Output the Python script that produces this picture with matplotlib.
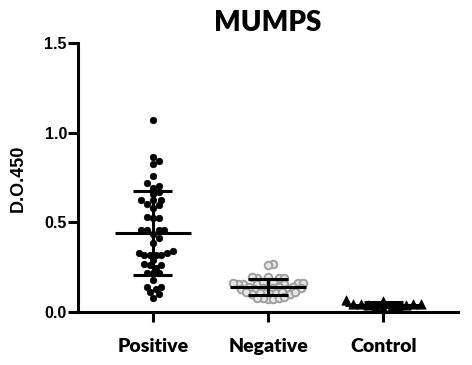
import numpy as np
import matplotlib
matplotlib.use("Agg")
import matplotlib.pyplot as plt

categories = ["Positive", "Negative", "Control"]

positive = [1.07, 0.863, 0.84, 0.828, 0.761, 0.717, 0.693, 0.70, 0.659, 0.668,
            0.624, 0.604, 0.624, 0.625, 0.594, 0.581, 0.524, 0.524, 0.531,
            0.457, 0.457, 0.458, 0.458, 0.433, 0.41, 0.387, 0.341, 0.328, 0.32,
            0.32, 0.32, 0.328, 0.32, 0.29, 0.261, 0.261, 0.27, 0.248, 0.22,
            0.22, 0.22, 0.18, 0.137, 0.137, 0.128, 0.109, 0.10, 0.078]

negative = [0.266, 0.264,
            0.19, 0.19, 0.192, 0.193, 0.195,
            0.155, 0.156, 0.157, 0.158, 0.159, 0.16, 0.162, 0.164, 0.166, 0.168,
            0.128, 0.129, 0.13, 0.131, 0.132, 0.134, 0.136, 0.138, 0.14, 0.142,
            0.10, 0.101, 0.102, 0.104, 0.106, 0.108, 0.11, 0.112, 0.114,
            0.074, 0.075, 0.076, 0.078, 0.08, 0.082]

control = [0.066, 0.063, 0.046, 0.045, 0.044, 0.042, 0.04, 0.038, 0.035,
           0.03, 0.025, 0.02]

W, H = 472, 365
fig = plt.figure(figsize=(W / 100, H / 100), dpi=100)
ax = fig.add_axes([78 / W, 53 / H, (458 - 78) / W, (312 - 43) / H])
ax.set_xlim(-0.65, 2.65)
ax.set_ylim(0, 1.5)

ax_w_px = 458 - 78
ax_h_px = 312 - 43
xpx = ax_w_px / 3.3
ypx = ax_h_px / 1.5


def swarm(values, diam_px, sep):
    vals = np.asarray(values, dtype=float)
    order = np.argsort(vals)
    placed = []
    offs = np.zeros(len(vals))
    for i in order:
        y = vals[i] * ypx
        cands = [0.0]
        for k in range(1, 60):
            cands += [k * diam_px * 0.5 * sep, -k * diam_px * 0.5 * sep]
        for c in cands:
            ok = True
            for (px, py) in placed:
                if (px - c) ** 2 + (py - y) ** 2 < (diam_px * sep) ** 2:
                    ok = False
                    break
            if ok:
                offs[i] = c
                placed.append((c, y))
                break
    return offs / xpx


groups = [positive, negative, control]
styles = [
    dict(marker="o", s=22, facecolor="black", edgecolor="black", linewidths=0.5),
    dict(marker="o", s=30, facecolor="#e6e6e6", edgecolor="#a0a0a0", linewidths=1.4),
    dict(marker="^", s=45, facecolor="black", edgecolor="black", linewidths=0.5),
]
diams = [6.0, 7.0, 8.5]
seps = [0.95, 0.78, 0.88]

for i, (vals, st, d, sp) in enumerate(zip(groups, styles, diams, seps)):
    offs = swarm(vals, d, sp)
    ax.scatter(i + offs, vals, zorder=2, clip_on=False, **st)
    m = np.mean(vals)
    sd = np.std(vals, ddof=1)
    ax.plot([i - 0.33, i + 0.33], [m, m], color="black", lw=2.2, zorder=3,
            solid_capstyle="butt")
    ax.plot([i, i], [m - sd, m + sd], color="black", lw=2.2, zorder=3)
    for yy in (m - sd, m + sd):
        ax.plot([i - 0.17, i + 0.17], [yy, yy], color="black", lw=2.2, zorder=3,
                solid_capstyle="butt")

for s in ("top", "right"):
    ax.spines[s].set_visible(False)
for s in ("left", "bottom"):
    ax.spines[s].set_linewidth(2.2)

ax.set_yticks([0.0, 0.5, 1.0, 1.5])
ax.set_yticklabels(["0.0", "0.5", "1.0", "1.5"])
ax.set_xticks([0, 1, 2])
ax.set_xticklabels(categories)
ax.tick_params(axis="y", length=7, width=2.2, pad=1)
ax.tick_params(axis="x", length=7, width=2.2, pad=12)
for lab in ax.get_yticklabels():
    lab.set_fontfamily("Liberation Sans")
    lab.set_fontweight("bold")
    lab.set_fontsize(11.5)
for lab in ax.get_xticklabels():
    lab.set_fontfamily("Lato")
    lab.set_fontweight("heavy")
    lab.set_fontsize(14)

fig.text(18 / W, 1 - 178 / H, "D.O.450", rotation=90, ha="center", va="center",
         fontfamily="Liberation Sans", fontweight="bold", fontsize=13)
fig.text(268 / W, 1 - 23 / H, "MUMPS", ha="center", va="center",
         fontfamily="Lato", fontweight="heavy", fontsize=20)

fig.savefig("out.png", dpi=100)
